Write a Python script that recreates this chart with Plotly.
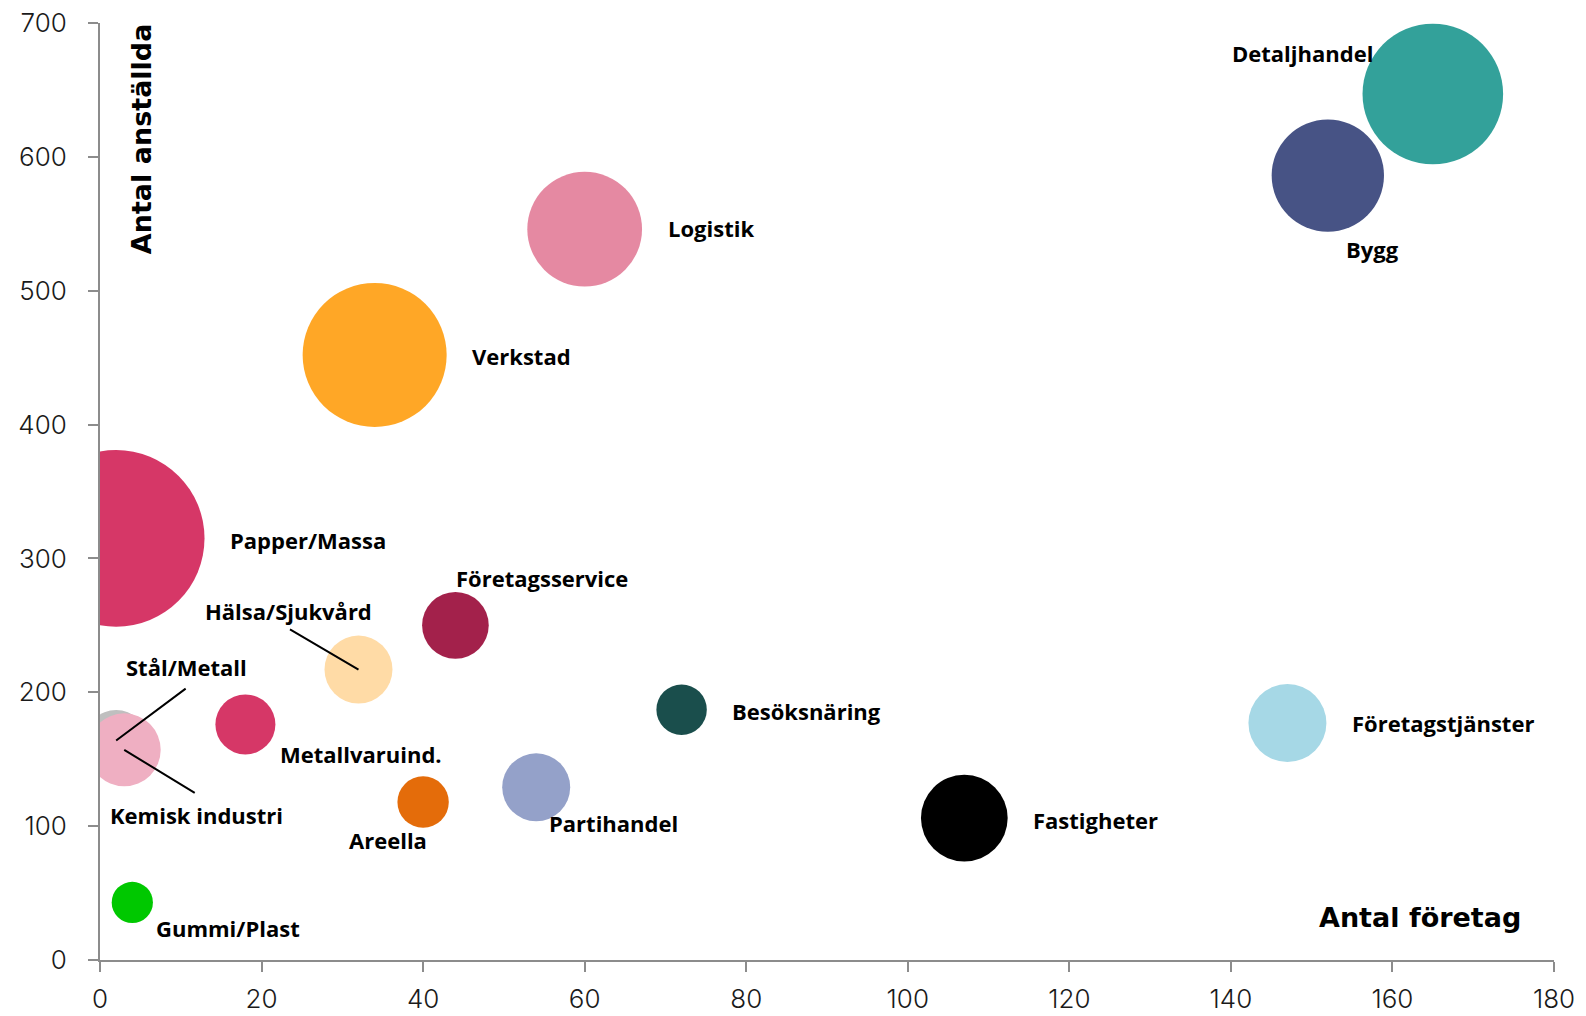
import plotly.graph_objects as go

# ---------------- data ----------------
branscher = [
    "Detaljhandel", "Bygg", "Logistik", "Verkstad", "Papper/Massa",
    "Företagsservice", "Hälsa/Sjukvård", "Stål/Metall", "Kemisk industri",
    "Metallvaruind.", "Gummi/Plast", "Areella", "Partihandel",
    "Besöksnäring", "Fastigheter", "Företagstjänster",
]
antal_foretag = [165, 152, 60, 34, 2, 44, 32, 2, 3, 18, 4, 40, 54, 72, 107, 147]
antal_anstallda = [647, 586, 546, 452, 315, 250, 217, 164, 157, 176, 43, 118, 129, 187, 106, 177]
bubbelstorlek = [988, 631, 658, 1037, 1561, 222, 231, 186, 266, 180, 85, 132, 231, 127, 376, 304]

x_ticks = [0, 20, 40, 60, 80, 100, 120, 140, 160, 180]
y_ticks = [0, 100, 200, 300, 400, 500, 600, 700]

# ---------------- styling ----------------
farger = {
    "Detaljhandel": "#33A19A", "Bygg": "#475385", "Logistik": "#E589A2",
    "Verkstad": "#FFA726", "Papper/Massa": "#D63767", "Företagsservice": "#A3214B",
    "Hälsa/Sjukvård": "#FFDBA6", "Stål/Metall": "#BFBFBF", "Kemisk industri": "#EFAFC2",
    "Metallvaruind.": "#D63767", "Gummi/Plast": "#00C800", "Areella": "#E46C0A",
    "Partihandel": "#94A1C9", "Besöksnäring": "#1A4E4C", "Fastigheter": "#000000",
    "Företagstjänster": "#A6D8E6",
}
# label placement: (xshift px, yshift px, xanchor)
etiketter = {
    "Detaljhandel": (-58, 41, "right"),
    "Bygg": (45, -73, "center"),
    "Logistik": (81, 1, "left"),
    "Verkstad": (95, -1, "left"),
    "Papper/Massa": (112, -2, "left"),
    "Företagsservice": (87, 47, "center"),
    "Hälsa/Sjukvård": (-70, 59, "center"),
    "Stål/Metall": (70, 73, "center"),
    "Kemisk industri": (72, -65, "center"),
    "Metallvaruind.": (33, -30, "left"),
    "Gummi/Plast": (22, -26, "left"),
    "Areella": (-35, -38, "center"),
    "Partihandel": (11, -36, "left"),
    "Besöksnäring": (48, -1, "left"),
    "Fastigheter": (67, -2, "left"),
    "Företagstjänster": (63, 0, "left"),
}
# leader lines: (ax, ay) tail offset in px from bubble centre
ledare = {
    "Stål/Metall": (71, -53),
    "Kemisk industri": (72, 44),
    "Hälsa/Sjukvård": (-70, -41),
}

diametrar = [(20 * v) ** 0.5 for v in bubbelstorlek]

fig = go.Figure()
fig.add_trace(go.Scatter(
    x=antal_foretag, y=antal_anstallda, mode="markers",
    text=branscher, hoverinfo="text",
    marker=dict(size=diametrar, sizemode="diameter",
                color=[farger[b] for b in branscher], opacity=1,
                line=dict(width=0)),
    showlegend=False,
))

label_font = dict(family="Open Sans, Noto Sans, sans-serif", size=22, color="#000000", weight="bold")
annots = []
for b, xv, yv in zip(branscher, antal_foretag, antal_anstallda):
    dx, dy, xa = etiketter[b]
    annots.append(dict(x=xv, y=yv, xref="x", yref="y", text=b, showarrow=False,
                       xshift=dx, yshift=dy, xanchor=xa, yanchor="middle",
                       font=label_font))
    if b in ledare:
        ax, ay = ledare[b]
        annots.append(dict(x=xv, y=yv, xref="x", yref="y", text="", showarrow=True,
                           arrowhead=0, arrowwidth=2, arrowcolor="#000000",
                           ax=ax, ay=ay, standoff=0, startstandoff=0))

title_font = dict(family="DejaVu Sans, Inter, sans-serif", size=27, color="#000000", weight="bold")
annots.append(dict(x=0.0282, y=0.876, xref="paper", yref="paper", text="Antal anställda",
                   textangle=-90, showarrow=False, xanchor="center", yanchor="middle",
                   font=title_font))
annots.append(dict(x=0.9787, y=0.0453, xref="paper", yref="paper", text="Antal företag",
                   showarrow=False, xanchor="right", yanchor="middle", font=title_font))

tick_font = dict(family="Inter, Lato, sans-serif", size=26, color="#1a1a1a", weight=300)
axis_common = dict(showgrid=False, zeroline=False, showline=True, linecolor="#8c8c8c",
                   linewidth=2, ticks="outside", ticklen=10, tickwidth=2,
                   tickcolor="#8c8c8c", tickfont=tick_font, automargin=False)

fig.update_layout(
    width=1586, height=1016,
    margin=dict(l=100, r=32, t=23, b=56, autoexpand=False),
    paper_bgcolor="white", plot_bgcolor="white",
    xaxis=dict(range=[0, 180], tickvals=x_ticks, ticklabelstandoff=5, **axis_common),
    yaxis=dict(range=[0, 700], tickvals=y_ticks, ticklabelstandoff=16, **axis_common),
    annotations=annots,
)

fig.write_html("out.html", config={"displayModeBar": False},
               post_script="document.body.style.margin='0';document.body.style.overflow='hidden';")
